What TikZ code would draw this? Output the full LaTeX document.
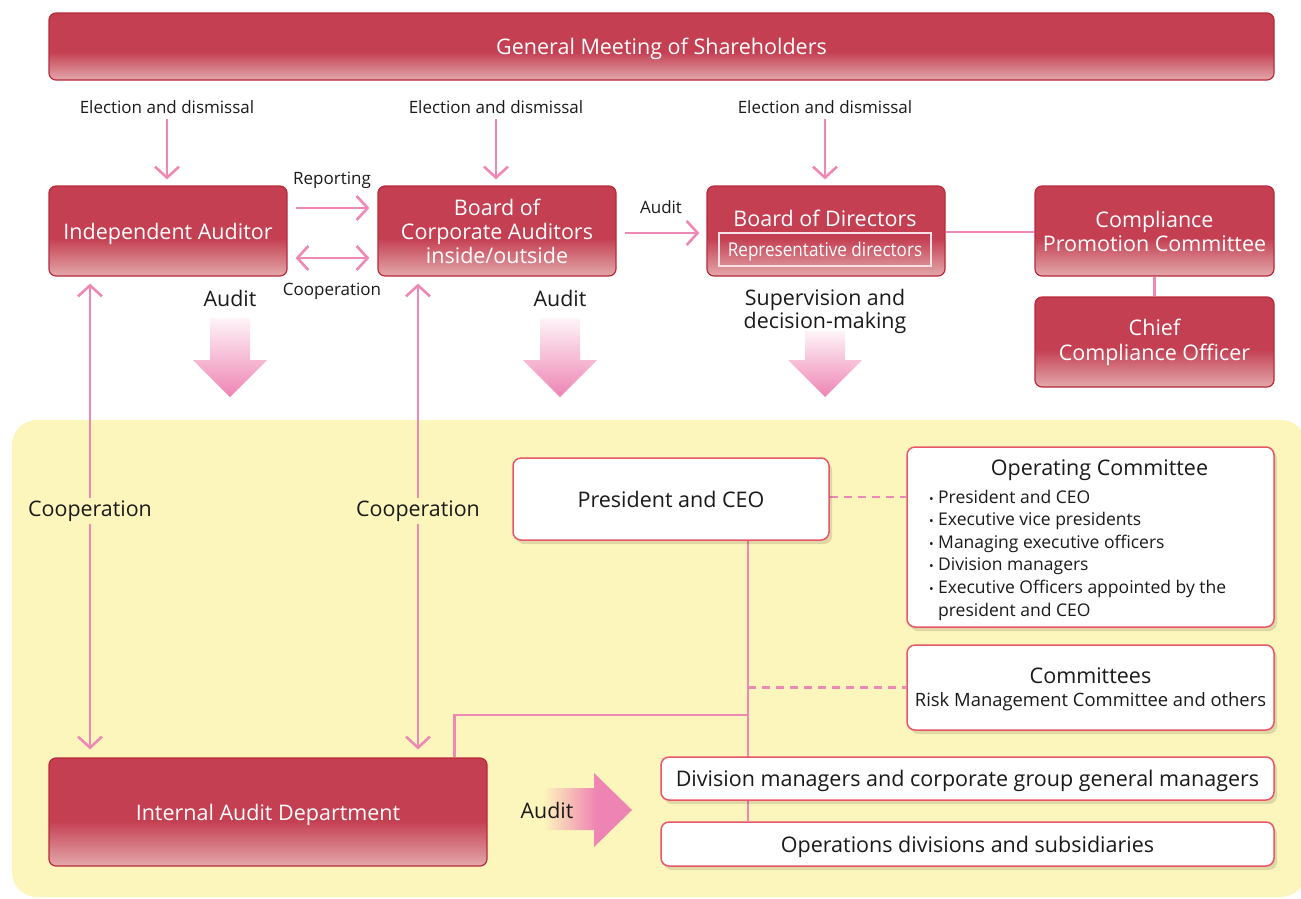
\documentclass[tikz,border=0pt]{standalone}
\usepackage{fontspec}
\setmainfont{Open Sans}
\usetikzlibrary{arrows.meta,calc,shadows}
\definecolor{redmain}{HTML}{C43F52}
\definecolor{redlight}{HTML}{E3A8AB}
\definecolor{redborder}{HTML}{B82A3A}
\definecolor{pinkline}{HTML}{EE88B4}
\definecolor{pinkarrow}{HTML}{EE84B3}
\definecolor{pinktop}{HTML}{FEF4F8}
\definecolor{yellowbg}{HTML}{FDF6BC}
\definecolor{wborder}{HTML}{E9566A}
\definecolor{txt}{HTML}{1A1A1A}
\pgfdeclareverticalshading{redgrad}{100bp}{color(0bp)=(redlight); color(25bp)=(redlight); color(46bp)=(redmain); color(100bp)=(redmain)}
\pgfdeclarehorizontalshading{hgrad}{100bp}{color(0bp)=(yellowbg); color(25bp)=(yellowbg); color(55bp)=(pinkarrow); color(100bp)=(pinkarrow)}
\pgfdeclarelayer{back}
\pgfdeclarelayer{lines}
\pgfsetlayers{back,lines,main}
\newcommand\fsBox{\fontsize{21.5}{24}\selectfont}
\newcommand\fsLbl{\fontsize{17}{20}\selectfont}
\newcommand\fsBig{\fontsize{21.4}{23}\selectfont}
\newcommand\fsItem{\fontsize{17.5}{22.6}\selectfont}
\newcommand\bul{\makebox[9pt][l]{\scalebox{0.7}{\textbullet}}}
\newcommand\pinkdown[3]{\shade[top color=pinktop, bottom color=pinkarrow]
  (#1-20,#2) -- (#1+20,#2) -- (#1+20,#3) -- (#1+37,#3) -- (#1,397) -- (#1-37,#3) -- (#1-20,#3) -- cycle;}
\begin{document}
\begin{tikzpicture}[x=1pt,y=-1pt,
  redbox/.style={draw=redborder, line width=1.2pt, rounded corners=7pt, shade, shading=redgrad,
     text=white, align=center, font=\fsBox, inner sep=2pt},
  whitebox/.style={draw=wborder, line width=1.5pt, fill=white, rounded corners=8pt,
     drop shadow={shadow xshift=3pt, shadow yshift=-4pt, opacity=0.12, fill=black},
     align=center, font=\fsBox, text=txt, inner sep=2pt},
  oneline/.style={text depth=0pt},
  lbl/.style={font=\fsLbl, text=txt, inner sep=2pt, align=center},
  biglbl/.style={font=\fsBig, text=txt, inner sep=3pt, align=center},
  plink/.style={draw=pinkline, line width=2.6pt},
  pdash/.style={draw=pinkline, line width=2.6pt, dash pattern=on 8pt off 6pt},
  parrow/.style={plink, -{Straight Barb[length=11pt,width=24pt,line width=2.6pt]}},
  parrows/.style={plink, {Straight Barb[length=11pt,width=24pt,line width=2.6pt]}-{Straight Barb[length=11pt,width=24pt,line width=2.6pt]}}
]
\useasboundingbox (0,0) rectangle (1301,898);
\begin{pgfonlayer}{back}
  \fill[yellowbg, rounded corners=25pt] (12,420) rectangle (1306,897);
\end{pgfonlayer}

% top row
\node[redbox, oneline, minimum width=1225, minimum height=67] (gm) at (661.5,46.5) {General Meeting of Shareholders};
\node[redbox, oneline, minimum width=238, minimum height=90] (ia) at (168,231) {Independent Auditor};
\node[redbox, minimum width=238, minimum height=90] (bca) at (497,231) {Board of\\Corporate Auditors\\inside/outside};
\node[redbox, minimum width=238, minimum height=90] (bod) at (826,231) {};
\node[text=white, font=\fsBox, inner sep=0pt] (bodt) at (825,218) {Board of Directors};
\node[draw=white!85!redmain, line width=1.2pt, text=white, minimum width=212, minimum height=33, inner sep=0pt, text depth=0pt] (rep) at (825,249.5) {\scalebox{0.9}[1]{\fontsize{19}{22}\selectfont Representative directors}};
\node[redbox, minimum width=239, minimum height=90] (cpc) at (1154.5,231) {Compliance\\Promotion Committee};
\node[redbox, minimum width=239, minimum height=90] (cco) at (1154.5,342) {Chief\\[1pt]Compliance Officer};

% labels
\node[lbl] (el1) at (167,107) {Election and dismissal};
\node[lbl] (el2) at (496,107) {Election and dismissal};
\node[lbl] (el3) at (825,107) {Election and dismissal};
\node[lbl] (lrep) at (332,180) {Reporting};
\node[lbl] (lcoop) at (332,291) {Cooperation};
\node[lbl] (laud) at (661,207) {Audit};

\draw[parrow, shorten <=3pt, shorten >=6pt] (el1.south) -- (el1.south |- ia.north);
\draw[parrow, shorten <=3pt, shorten >=6pt] (el2.south) -- (el2.south |- bca.north);
\draw[parrow, shorten <=3pt, shorten >=6pt] (el3.south) -- (el3.south |- bod.north);
\draw[parrow] ($(ia.east)+(8,-23)$) -- ($(bca.west)+(-8,-23)$);
\draw[parrows] ($(ia.east)+(8,27)$) -- ($(bca.west)+(-8,27)$);
\draw[parrow] ($(bca.east)+(8,2)$) -- ($(bod.west)+(-7,2)$);
\draw[plink] ($(bod.east)+(0,1)$) -- ($(cpc.west)+(0,1)$);
\draw[plink] (cpc.south) -- (cco.north);

% big labels and block arrows
\node[biglbl] (au1) at (230,298) {Audit};
\node[biglbl] (au2) at (560,298) {Audit};
\node[biglbl] (sup) at (825,311) {Supervision and\\decision-making};
\pinkdown{230}{318}{360}
\pinkdown{560}{318}{360}
\pinkdown{825}{331}{360}

% lower area
\node[redbox, text depth=-1.5pt, minimum width=438, minimum height=108] (iad) at (268,812) {Internal Audit Department};
\node[whitebox, oneline, minimum width=316, minimum height=82] (pres) at (671,499) {President and CEO};
\node[whitebox, minimum width=367, minimum height=180] (opc) at (1090.5,537) {};
\node[font=\fsBox, text=txt, inner sep=0pt] (opct) at (1099.5,470) {Operating Committee};
\node[font=\fsItem, text=txt, align=left, anchor=west, inner sep=0pt] (opcl) at (929,555) {%
\bul President and CEO\\
\bul Executive vice presidents\\
\bul Managing executive officers\\
\bul Division managers\\
\bul Executive Officers appointed by the\\
\hphantom{\bul}president and CEO};
\node[whitebox, oneline, minimum width=367, minimum height=85] (com) at (1090.5,687.5) {Committees\\[-1pt]{\fontsize{18.4}{22}\selectfont Risk Management Committee and others}};
\node[whitebox, oneline, minimum width=613, minimum height=43] (div) at (967.5,778.5) {Division managers and corporate group general managers};
\node[whitebox, oneline, minimum width=613, minimum height=44] (ops) at (967.5,844) {Operations divisions and subsidiaries};

\node[biglbl, fill=yellowbg] (c1) at (90,511) {Cooperation};
\node[biglbl, fill=yellowbg] (c2) at (418,511) {Cooperation};
\coordinate (j) at (748,715);
\begin{pgfonlayer}{lines}
  \draw[parrows, shorten <=7pt, shorten >=8pt] (c1 |- ia.south) -- (c1 |- iad.north);
  \draw[parrows, shorten <=7pt, shorten >=8pt] (c2 |- bca.south) -- (c2 |- iad.north);
  \draw[plink] ($(iad.north east)+(-33,0)$) |- (j);
  \draw[plink] (j |- pres.south) -- (j |- ops.north);
  \draw[pdash] (pres.east |- 0,497) -- (opc.west |- 0,497);
  \draw[pdash] (j |- com.west) -- (com.west);
\end{pgfonlayer}

\shade[shading=hgrad] (543,788) -- (594,788) -- (594,773) -- (632,810) -- (594,847) -- (594,830) -- (543,830) -- cycle;
\node[biglbl] (au3) at (547,810) {Audit};
\end{tikzpicture}
\end{document}
